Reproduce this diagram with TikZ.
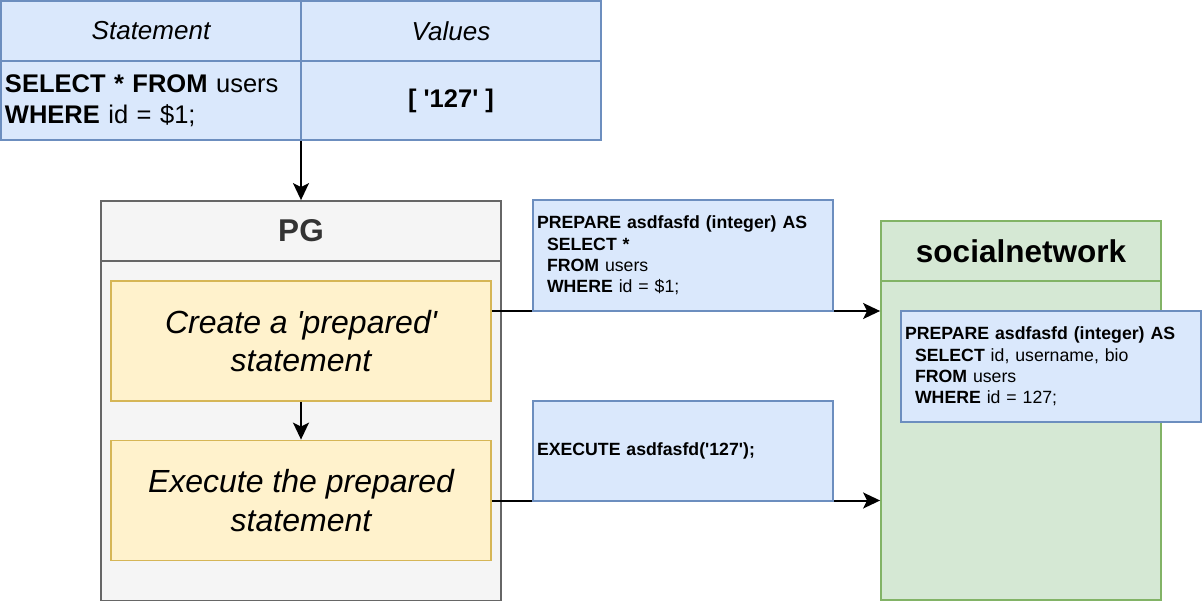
\documentclass[tikz,border=0pt]{standalone}
\usepackage{fontspec}
\setmainfont{Liberation Sans}
\usetikzlibrary{arrows.meta, positioning}
\definecolor{bluefill}{HTML}{DAE8FC}
\definecolor{blueline}{HTML}{6C8EBF}
\definecolor{grayfill}{HTML}{F5F5F5}
\definecolor{grayline}{HTML}{666666}
\definecolor{graytext}{HTML}{333333}
\definecolor{yellowfill}{HTML}{FFF2CC}
\definecolor{yellowline}{HTML}{D6B656}
\definecolor{greenfill}{HTML}{D5E8D4}
\definecolor{greenline}{HTML}{82B366}
\newcommand{\sq}{\textquotesingle}

\begin{document}
\begin{tikzpicture}[
  x=1pt, y=-1pt,
  cell/.style={rectangle, draw=blueline, fill=bluefill, line width=1.8pt,
               minimum width=300pt, inner sep=4pt, font=\fontsize{25.5}{30.5}\selectfont},
  head/.style={cell, minimum height=60pt, font=\itshape\fontsize{26}{31}\selectfont},
  pgbox/.style={rectangle, draw=grayline, fill=grayfill, line width=1.8pt,
                minimum width=400pt, minimum height=400pt},
  dbbox/.style={rectangle, draw=greenline, fill=greenfill, line width=1.8pt,
                minimum width=280pt, minimum height=379pt},
  title/.style={minimum height=60pt, font=\bfseries\fontsize{31.5}{37}\selectfont},
  stepbox/.style={rectangle, draw=yellowline, fill=yellowfill, line width=1.8pt,
                  minimum width=380pt, minimum height=120pt, align=center,
                  font=\itshape\fontsize{32}{38.5}\selectfont},
  sqlbox/.style={rectangle, draw=blueline, fill=bluefill, line width=1.8pt,
                 minimum width=300pt, text width=292pt, inner xsep=4pt, align=left,
                 font=\fontsize{17.7}{21.2}\selectfont},
  arrow/.style={-{Stealth[length=17pt, width=16pt, inset=4pt]}, line width=2pt}
]
\useasboundingbox (0,0) rectangle (1202,602);

% statement / values table
\node[head] (hdrstmt) at (151,31) {Statement};
\node[head] (hdrval) at (451,31) {Values};
\node[cell, minimum height=79pt, text width=292pt, align=left] (cellstmt) at (151,100.5)
  {\textbf{SELECT * FROM} users\\\textbf{WHERE} id = \$1;};
\node[cell, minimum height=79pt] (cellval) at (451,100.5) {\textbf{[ \sq127\sq{} ]}};

% PG
\node[pgbox] (pg) at (301,400.5) {};
\node[pgbox, title, text=graytext] (pghead) at (301,231) {PG};
\node[stepbox] (create) at (301,341) {Create a \sq prepared\sq\\statement};
\node[stepbox] (exec) at (301,500.5) {Execute the prepared\\statement};

% socialnetwork
\node[dbbox] (social) at (1021,410.5) {};
\node[dbbox, title, minimum height=60pt] (socialhead) at (1021,251) {socialnetwork};

\draw[arrow] (pghead.north |- cellval.south) -- (pghead.north);
\draw[arrow] (create) -- (exec);
\draw[arrow] ([yshift=30pt]create.east) -- ([yshift=30pt]create.east -| social.west);
\draw[arrow] (exec.east) -- (exec.east -| social.west);

% sql texts
\node[sqlbox, minimum height=111pt] (prep) at (683,255.5)
  {\textbf{PREPARE asdfasfd (integer) AS}\\
   \hspace*{10pt}\textbf{SELECT *}\\
   \hspace*{10pt}\textbf{FROM} users\\
   \hspace*{10pt}\textbf{WHERE} id = \$1;};
\node[sqlbox, minimum height=100pt] (execsql) at (683,451)
  {\textbf{EXECUTE asdfasfd(\sq127\sq);}};
\node[sqlbox, minimum height=111pt] (prepdb) at (1051,366.5)
  {\textbf{PREPARE asdfasfd (integer) AS}\\
   \hspace*{10pt}\textbf{SELECT} id, username, bio\\
   \hspace*{10pt}\textbf{FROM} users\\
   \hspace*{10pt}\textbf{WHERE} id = 127;};
\end{tikzpicture}
\end{document}
